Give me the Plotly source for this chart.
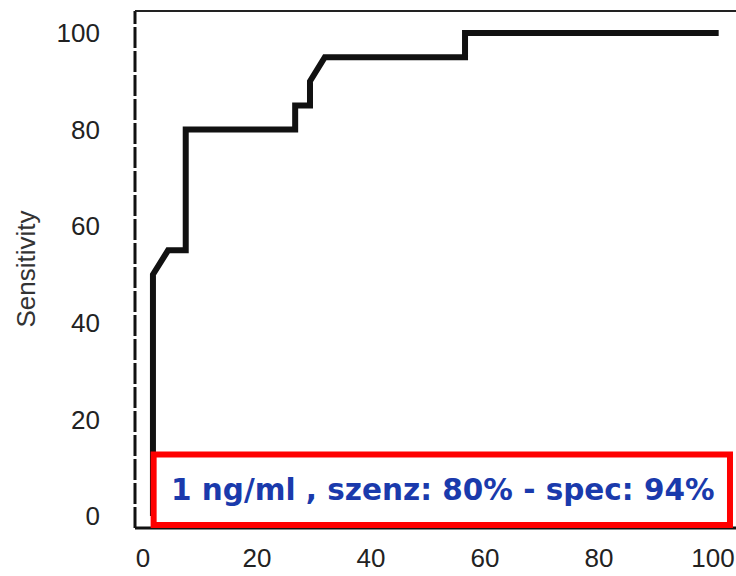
import plotly.graph_objects as go

# ROC curve (1 - specificity %, sensitivity %)
fpr = [1.75, 1.75, 4.4, 7.5, 7.5, 26.7, 26.7, 29.3, 29.3, 31.9, 56.5, 56.5, 101.0]
sens = [0, 50, 55, 55, 80, 80, 85, 85, 90, 95, 95, 100, 100]

x_ticks = [0, 20, 40, 60, 80, 100]
y_ticks = [0, 20, 40, 60, 80, 100]
y_title = "Sensitivity"
box_text = "1 ng/ml , szenz: 80% - spec: 94%"

fig = go.Figure()
fig.add_trace(go.Scatter(
    x=fpr, y=sens, mode="lines",
    line=dict(color="#111111", width=6),
    hoverinfo="skip", showlegend=False,
))

# axis frame
fig.add_shape(type="line", xref="paper", yref="paper", x0=0, x1=0, y0=0, y1=1,
              line=dict(color="#111111", width=3, dash="21px,3px"))
fig.add_shape(type="line", xref="paper", yref="paper", x0=0, x1=1, y0=1, y1=1,
              line=dict(color="#222222", width=2))
fig.add_shape(type="line", xref="paper", yref="paper", x0=0, x1=1, y0=0, y1=0,
              line=dict(color="#111111", width=3))

# red highlight box
fig.add_shape(type="rect", xref="paper", yref="paper",
              x0=0.031, x1=0.990, y0=0.006, y1=0.142,
              line=dict(color="#ff0000", width=6), fillcolor="white", layer="above")
fig.add_annotation(xref="paper", yref="paper", x=0.512, y=0.074,
                   text="<b>" + box_text + "</b>", showarrow=False,
                   font=dict(family="DejaVu Sans", size=29.5, color="#1a3aac"),
                   xanchor="center", yanchor="middle")

# y-axis title
fig.add_annotation(xref="paper", yref="paper", x=-0.183, y=0.5, xanchor="center", yanchor="middle",
                   text=y_title, textangle=-90, showarrow=False,
                   font=dict(family="Liberation Sans", size=26, color="#333333"))

fig.update_layout(
    width=736, height=576,
    margin=dict(l=135, r=0, t=11, b=48, autoexpand=False),
    paper_bgcolor="white", plot_bgcolor="white",
    font=dict(family="Liberation Sans", color="#222222"),
)
fig.update_xaxes(range=[-1.4, 104.04], tickvals=x_ticks, ticktext=[str(v) for v in x_ticks],
                 showgrid=False, zeroline=False, showline=False, ticks="", automargin=False,
                 tickfont=dict(size=26), ticklabelstandoff=12)
fig.update_yaxes(range=[-2.48, 104.55], tickvals=y_ticks, ticktext=[str(v) for v in y_ticks],
                 showgrid=False, zeroline=False, showline=False, ticks="", automargin=False,
                 tickfont=dict(size=26), ticklabelstandoff=34)

fig.write_html("out.html", config={"displayModeBar": False},
               post_script="document.body.style.margin='0';")
